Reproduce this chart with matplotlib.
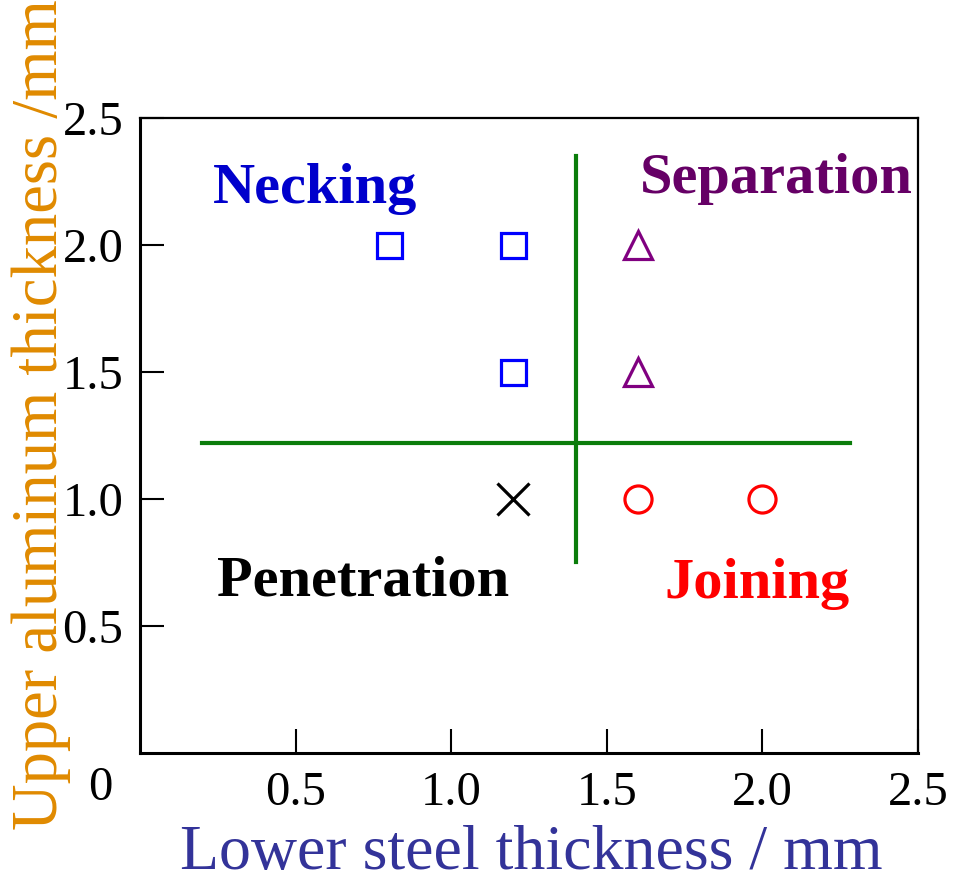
import matplotlib
matplotlib.use("Agg")
import matplotlib.pyplot as plt

# Resultados de unión por combinación de espesores (acero inferior, aluminio superior)
necking_x = [0.8, 1.2, 1.2]
necking_y = [2.0, 2.0, 1.5]
separation_x = [1.6, 1.6]
separation_y = [2.0, 1.5]
joining_x = [1.6, 2.0]
joining_y = [1.0, 1.0]
penetration_x = [1.2]
penetration_y = [1.0]

# Fronteras entre regiones
h_line_y = 1.22
h_line_x = [0.2, 2.28]
v_line_x = 1.4
v_line_y = [0.75, 2.35]

ticks = [0.5, 1.0, 1.5, 2.0, 2.5]
tick_labels = ["0.5", "1.0", "1.5", "2.0", "2.5"]

plt.rcParams["font.family"] = ["Liberation Serif", "DejaVu Serif"]

fig = plt.figure(figsize=(9.54, 8.85), dpi=100)
ax = fig.add_axes([0.1468, 0.1492, 0.8155, 0.7175])

green = "#0b7d0b"
ax.plot(h_line_x, [h_line_y, h_line_y], color=green, lw=3)
ax.plot([v_line_x, v_line_x], v_line_y, color=green, lw=3)

ax.plot(necking_x, necking_y, "s", ms=18, mfc="none", mec="#0000ff", mew=2.3)
ax.plot(separation_x, separation_y, "^", ms=20, mfc="none", mec="#800080", mew=2.3)
ax.plot(joining_x, joining_y, "o", ms=19.5, mfc="none", mec="#ff0000", mew=2.3)
ax.plot(penetration_x, penetration_y, "x", ms=23, mec="black", mew=2.3)

lbl = dict(fontsize=42, fontweight="bold", ha="left", va="baseline")
ax.text(0.235, 2.165, "Necking", color="#0000cc", **lbl)
ax.text(1.607, 2.205, "Separation", color="#660066", **lbl)
ax.text(0.247, 0.62, "Penetration", color="black", **lbl)
ax.text(1.684, 0.61, "Joining", color="#ff0000", **lbl)

ax.set_xlim(0, 2.5)
ax.set_ylim(0, 2.5)
ax.set_xticks(ticks)
ax.set_xticklabels(tick_labels)
ax.set_yticks(ticks)
ax.set_yticklabels(tick_labels)
ax.tick_params(direction="in", length=17, width=1.5, labelsize=35, pad=12)
ax.tick_params(axis="x", pad=13)

for side in ["left", "bottom"]:
    ax.spines[side].set_linewidth(2.2)
for side in ["top", "right"]:
    ax.spines[side].set_linewidth(1.6)

# origen compartido
ax.text(-0.128, -0.05, "0", fontsize=35, ha="center", va="top", clip_on=False)

fig.text(0.557, 0.018, "Lower steel thickness / mm", color="#333399",
         fontsize=46, ha="center", va="baseline")
fig.text(0.012, 0.532, "Upper aluminum thickness /mm", color="#e08a00",
         fontsize=46.5, rotation=90, ha="left", va="center")

fig.savefig("out.png", dpi=100)
